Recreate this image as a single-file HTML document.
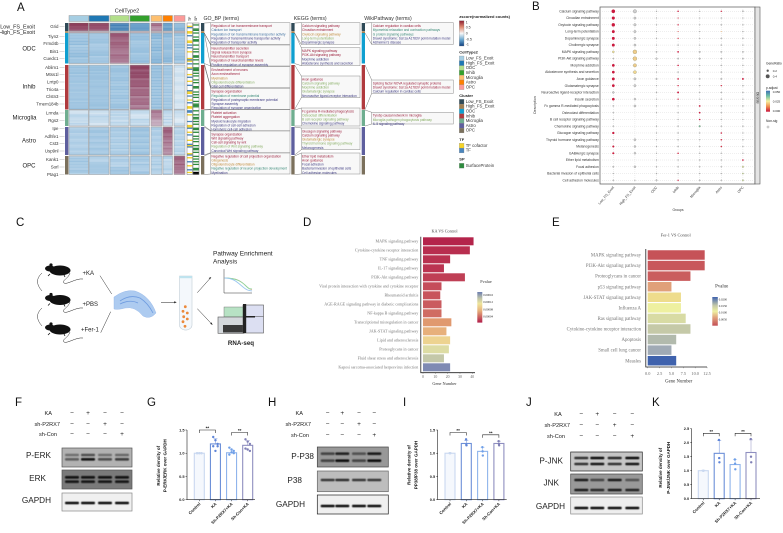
<!DOCTYPE html>
<html lang="en">
<head>
<meta charset="utf-8">
<title>Multi-panel figure</title>
<style>
html,body{margin:0;padding:0;background:#fff;width:783px;height:533px;overflow:hidden}
svg{display:block;filter:blur(.25px)}
text{font-family:"Liberation Sans",sans-serif}
.serif{font-family:"Liberation Serif",serif}
.letter{font-size:11.5px;fill:#111}
</style>
</head>
<body>
<svg id="fig" xmlns="http://www.w3.org/2000/svg" width="783" height="533" viewBox="0 0 783 533">
<defs>
<filter id="soft" x="-20%" y="-100%" width="140%" height="300%"><feGaussianBlur stdDeviation="0.45"/></filter>
<linearGradient id="zscore-grad" x1="0" y1="0" x2="0" y2="1"><stop offset="0" stop-color="#8c1c30"/><stop offset=".25" stop-color="#e08a70"/><stop offset=".5" stop-color="#f7f7f7"/><stop offset=".75" stop-color="#6aa8d0"/><stop offset="1" stop-color="#0f3f80"/></linearGradient>
<linearGradient id="padj-grad" x1="0" y1="0" x2="0" y2="1"><stop offset="0" stop-color="#3f6fb5"/><stop offset=".25" stop-color="#6fc0a5"/><stop offset=".5" stop-color="#f5f0a0"/><stop offset=".75" stop-color="#f09050"/><stop offset="1" stop-color="#c8143c"/></linearGradient>
<linearGradient id="pv-grad-d" x1="0" y1="0" x2="0" y2="1"><stop offset="0" stop-color="#6b7db0"/><stop offset=".2" stop-color="#bcc1a9"/><stop offset=".38" stop-color="#efe59b"/><stop offset=".6" stop-color="#e8b47c"/><stop offset="1" stop-color="#b11d49"/></linearGradient>
<linearGradient id="pv-grad-e" x1="0" y1="0" x2="0" y2="1"><stop offset="0" stop-color="#3f62ad"/><stop offset=".3" stop-color="#c5c9a8"/><stop offset=".5" stop-color="#eef0a0"/><stop offset=".72" stop-color="#e0a07a"/><stop offset="1" stop-color="#c44f56"/></linearGradient>
</defs>
<rect width="783" height="533" fill="#fff"/>
<text class="letter" x="17" y="11">A</text>
<text class="letter" x="532" y="10">B</text>
<text class="letter" x="16" y="226">C</text>
<text class="letter" x="303" y="226">D</text>
<text class="letter" x="552" y="226">E</text>
<text class="letter" x="15" y="406">F</text>
<text class="letter" x="147" y="406">G</text>
<text class="letter" x="268" y="406">H</text>
<text class="letter" x="403" y="406">I</text>
<text class="letter" x="526" y="406">J</text>
<text class="letter" x="652" y="406">K</text>

<g id="panel-c">
  <g transform="translate(0,0)" fill="#111">
    <ellipse cx="60" cy="270.5" rx="10.5" ry="5"/><ellipse cx="50" cy="268.5" rx="5" ry="3"/><circle cx="51" cy="265" r="1.6"/>
    <path d="M50 274l-2 2M64 275l1 2" stroke="#111" stroke-width=".8"/>
    <path d="M70 273c-2 6-9 8-6 10s12-5 19-4" fill="none" stroke="#222" stroke-width=".5"/>
  </g>
  <g fill="#111">
    <ellipse cx="60" cy="300" rx="10.5" ry="5"/><ellipse cx="50" cy="298" rx="5" ry="3"/><circle cx="51" cy="294.5" r="1.6"/>
    <path d="M50 303.500l-2 2M64 304.500l1 2" stroke="#111" stroke-width=".8"/>
    <path d="M70 302c-2 6-9 8-6 10s12-5 19-4" fill="none" stroke="#222" stroke-width=".5"/>
  </g>
  <g fill="#111">
    <ellipse cx="60" cy="329.500" rx="10.5" ry="5"/><ellipse cx="50" cy="327.500" rx="5" ry="3"/><circle cx="51" cy="324" r="1.6"/>
    <path d="M50 333l-2 2M64 334l1 2" stroke="#111" stroke-width=".8"/>
    <path d="M70 332c-2 6-9 8-6 10s12-5 19-4" fill="none" stroke="#222" stroke-width=".5"/>
  </g>
  <path d="M42 273q-9 8 0 18" fill="none" stroke="#333" stroke-width=".5"/>
  <path d="M42 308q-9 8 0 18" fill="none" stroke="#333" stroke-width=".5"/>
  <text x="82.500" y="275" font-size="6" fill="#222">+KA</text>
  <text x="82.500" y="306" font-size="6" fill="#222">+PBS</text>
  <text x="81" y="331.500" font-size="6" fill="#222">+Fer-1</text>
  <path d="M100 275.700L111.700 294M110.700 311.700L100.700 332.700" stroke="#333" stroke-width=".5" fill="none"/>
  <path d="M114 297Q125 289 135 291Q150 296 156 313Q150 320 143 316Q135 306 125 308Q118 310 114 309Z" fill="#adcbf0" stroke="#8fb3e6" stroke-width=".4"/>
  <path d="M120 301Q130 294 140 298Q148 303 153 313M120 304Q130 299 138 303" fill="none" stroke="#6f9ce0" stroke-width=".8"/>
  <path d="M161 302.300H175" stroke="#222" stroke-width=".5"/>
  <path d="M176.700 302.300l-2.500-1.100v2.200z" fill="#222"/>
  <path d="M179.500 276h12.500v49a6.200 5 0 0 1-12.500 0z" fill="#f4f8fc" stroke="#c2cdd6" stroke-width=".6"/>
  <rect x="179.500" y="276" width="12.500" height="2.200" fill="#bfe3ee"/>
  <g fill="#ec8a3c">
    <circle cx="185.300" cy="306.700" r="1.400"/><circle cx="183" cy="311.300" r="1.400"/><circle cx="187.300" cy="313" r="1.400"/><circle cx="183.700" cy="316.700" r="1.400"/><circle cx="187.300" cy="319" r="1.400"/><circle cx="183" cy="321.700" r="1.400"/><circle cx="185" cy="326.300" r="1.400"/>
  </g>
  <path d="M197.300 292.700L210.700 277.700M197.300 308.700L212 324.300" stroke="#222" stroke-width=".5" fill="none"/>
  <path d="M211.300 277l-2.600 1 1.400 1.300zM212.600 325l-1-2.600-1.400 1.300z" fill="#222"/>
  <text x="213" y="255.500" font-size="6.500" fill="#222">Pathway Enrichment</text>
  <text x="213" y="263.500" font-size="6.500" fill="#222">Analysis</text>
  <path d="M224 269V293H252" fill="none" stroke="#333" stroke-width=".5"/>
  <path d="M224.500 278C236 278 240 280 245 285S250 289 252 290" fill="none" stroke="#e8a090" stroke-width=".6"/>
  <path d="M224.500 278C237 278 242 282 246 286S250 288.500 252 289" fill="none" stroke="#8ed59a" stroke-width=".9"/>
  <path d="M224.500 278C234 278 238 283 243 287S248 290 252 291" fill="none" stroke="#9cc8ef" stroke-width=".9"/>
  <rect x="224" y="307" width="20" height="10" fill="#b7e2c4" stroke="#666" stroke-width=".4"/>
  <rect x="218" y="317" width="26" height="16.300" fill="#d4d8dc" stroke="#555" stroke-width=".6"/>
  <rect x="223" y="325" width="20" height="7.500" fill="#3a3a3a"/>
  <rect x="243" y="305" width="20.500" height="28" fill="#dcdff2" stroke="#555" stroke-width=".6"/>
  <rect x="243" y="304" width="3.200" height="29" fill="#222"/>
  <rect x="246" y="316" width="9" height="1.500" fill="#222"/>
  <rect x="255" y="316.400" width="8.500" height=".5" fill="#444"/>
  <text x="241" y="345" font-size="6.200" text-anchor="middle" font-weight="bold" fill="#222">RNA-seq</text>
</g>

<g id="panel-a"></g>
<g id="panel-b"></g>
<g id="panel-d"></g>
<g id="panel-e"></g>
<g id="panel-blots"></g>
<g id="panel-bars"></g>
</svg>

<script>
/* ---------- Panel A data ---------- */
const clusterNames = ['Low_FS_Exoit','High_FS_Exoit','ODC','Inhib','Microglia','Astro','OPC'];
const clusterColors = ['#2f4a58','#a07e50','#0f9fd0','#b03a3e','#6fae90','#5e5f9e','#7b705c'];
const cellTypeColors = ['#a6cee3','#1f78b4','#b2df8a','#33a02c','#fdbf6f','#ff7f00','#fb9a99'];
const heatValues = [
  [0.75,0.70,-0.72,-0.58,0.45,-0.55,-0.35],
  [0.20,0.20,0.20,0.20,0.20,0.20,0.20],
  [-0.30,-0.28,0.58,-0.30,-0.35,-0.34,-0.28],
  [-0.30,-0.28,-0.30,0.62,-0.32,-0.25,-0.10],
  [-0.14,-0.14,-0.16,-0.14,0.38,-0.14,-0.10],
  [-0.24,-0.24,-0.25,-0.26,-0.24,0.55,-0.20],
  [-0.24,-0.24,-0.24,-0.26,-0.22,-0.18,0.55]
];
const stripeShift = [0.10,-0.04,0.05,0.00,-0.05,0.08,0.02,-0.08,0.04,-0.02,0.06,-0.06,0.00,0.09,-0.03,-0.10,0.03,0.07,-0.04,0.01,-0.07,-0.12,-0.05,-0.09];
const tfCodes = 'wwybwwyywbwwwyywbwbwwywwwwybywbwwybwwwywbwwywwbwwwbyywbwwywbwwyywbbwywwwwbwwyybwwywbwwwywwbybwwwwybwywwbwwywwbwyw';
const spCodes = 'wgwwggwgwwgwggwwgwwgwgwwggwgwwgwwgggwgwgwwgwgwwggwwgwgwgwwgwgggwwgwwgwggwgwgwwggwgwwgwgwgwwgwggwgwwgwgwgwgwwggw';
const geneLabels = ['Grid','Tiyn2','Frmd4b','Bin1','Cuedc1','Ablim1','Mtss1l','Lrrtp0','Trio4a','Clstn3','Tmem184b','Lrmda','Rgs2','Ipe','Adhfe1','Cst3','Usp9nl','Kank1','Sorl','Ptag1'];
const geneY = [26.7,36.3,43.7,51.3,58.7,67.3,74.7,82,89.3,96.7,104,113,120.3,128.7,136.3,143.7,151,159.7,167,174.3];

const goTerms = [
 [['Regulation of ion transmembrane transport','r'],['Calcium ion transport','b'],['Regulation of ion transmembrane transporter activity','b'],['Regulation of transmembrane transporter activity','n'],['Regulation of transporter activity','n']],
 [['Neurotransmitter secretion','r'],['Signal release from synapse','r'],['Neurotransmitter transport','r'],['Regulation of neurotransmitter levels','r'],['Positive regulation of synapse assembly','n']],
 [['Ensheathment of neurons','r'],['Axon ensheathment','r'],['Myelination','o'],['Oligodendrocyte differentiation','g'],['Glial cell differentiation','n']],
 [['Synapse organization','r'],['Regulation of membrane potential','t'],['Regulation of postsynaptic membrane potential','n'],['Synapse assembly','n'],['Regulation of synapse organization','n']],
 [['Platelet activation','r'],['Platelet aggregation','r'],['Myeloid leukocyte migration','n'],['Regulation of cell-cell adhesion','n'],['Homotypic cell-cell adhesion','n']],
 [['Synapse organization','r'],['Wnt signaling pathway','r'],['Cell-cell signaling by wnt','r'],['Regulation of Wnt signaling pathway','g'],['Canonical Wnt signaling pathway','n']],
 [['Negative regulation of cell projection organization','r'],['Gliogenesis','o'],['Oligodendrocyte differentiation','o'],['Negative regulation of neuron projection development','t'],['Myelination','n']]
];
const keggTerms = [
 [['Calcium signaling pathway','r'],['Circadian entrainment','r'],['Oxytocin signaling pathway','o'],['Long-term potentiation','g'],['Dopaminergic synapse','n']],
 [['MAPK signaling pathway','r'],['PI3K-Akt signaling pathway','r'],['Morphine addiction','n'],['Aldosterone synthesis and secretion','n']],
 [['Axon guidance','r'],['Calcium signaling pathway','g'],['Morphine addiction','g'],['Glutamatergic synapse','g'],['Neuroactive ligand-receptor interaction','n']],
 [['Fc gamma R-mediated phagocytosis','r'],['Osteoclast differentiation','g'],['B cell receptor signaling pathway','g'],['Chemokine signaling pathway','n']],
 [['Glucagon signaling pathway','r'],['Calcium signaling pathway','r'],['Glutamatergic synapse','o'],['Thyroid hormone signaling pathway','g'],['Melanogenesis','n']],
 [['Ether lipid metabolism','r'],['Axon guidance','r'],['Focal adhesion','n'],['Bacterial invasion of epithelial cells','n'],['Cell adhesion molecules','n']]
];
const wikiTerms = [
 [['Calcium regulation in cardiac cells','r'],['Myometrial relaxation and contraction pathways','t'],['G protein signaling pathways','t'],['Dravet syndrome: Scn1a A1783V point mutation model','n'],['Alzheimer\u2019s disease','n']],
 [['Splicing factor NOVA regulated synaptic proteins','r'],['Dravet syndrome: Scn1a A1783V point mutation model','r'],['Calcium regulation in cardiac cells','n']],
 [['Tyrobp causal network in microglia','r'],['Microglia pathogen phagocytosis pathway','g'],['IL-5 signaling pathway','n']]
];

/* ---------- Panel B data ---------- */
const dotTerms = ['Calcium signaling pathway','Circadian entrainment','Oxytocin signaling pathway','Long-term potentiation','Dopaminergic synapse','Cholinergic synapse','MAPK signaling pathway','PI3K-Akt signaling pathway','Morphine addiction','Aldosterone synthesis and secretion','Axon guidance','Glutamatergic synapse','Neuroactive ligand-receptor interaction','Insulin secretion','Fc gamma R-mediated phagocytosis','Osteoclast differentiation','B cell receptor signaling pathway','Chemokine signaling pathway','Glucagon signaling pathway','Thyroid hormone signaling pathway','Melanogenesis','GABAergic synapse','Ether lipid metabolism','Focal adhesion','Bacterial invasion of epithelial cells','Cell adhesion molecules'];
const dotGroups = ['Low_FS_Exoit','High_FS_Exoit','ODC','Inhib','Microglia','Astro','OPC'];
const geneRatio = [
 [.36,.33,.03,.10,.02,.09,.08],[.30,.20,.02,.06,.01,.03,.02],[.33,.22,.03,.08,.02,.05,.04],[.27,.20,.02,.05,.02,.05,.04],
 [.27,.18,.03,.07,.02,.05,.05],[.27,.18,.02,.05,.02,.05,.04],[.17,.40,.08,.12,.10,.08,.08],[.04,.40,.12,.07,.10,.05,.07],
 [.25,.33,.03,.10,.02,.05,.05],[.25,.30,.02,.05,.02,.04,.03],[.27,.20,.10,.12,.06,.08,.15],[.25,.20,.03,.08,.03,.08,.06],
 [.15,0,.05,.15,.03,.05,.05],[.25,.15,.02,.08,.02,.05,.04],[.05,.18,.03,.03,.13,.05,.06],[.04,0,.02,.03,.12,.04,.03],
 [.03,0,0,.03,.10,.03,.02],[.05,0,.04,.05,.12,.04,.05],[.20,0,.03,.05,.03,.10,.03],[.04,.18,.02,.05,.03,.10,.05],
 [.17,.15,.03,.05,.03,.10,.03],[.17,.15,.02,.10,.03,.04,.03],[0,0,.02,.03,.04,.03,.12],[.08,.16,.05,.05,.04,.04,.12],
 [.02,0,.05,.03,.03,.03,.08],[.05,.02,.10,.08,.06,.04,.10]
];
const padjust = [
 [.001,null,null,.001,null,.003,null],[.001,null,null,.005,null,null,null],[.001,null,null,.003,null,null,null],[.001,null,null,.010,null,.020,null],
 [.001,null,null,.006,null,null,null],[.001,null,null,null,null,null,null],[.024,.022,null,.001,null,null,null],[null,.022,null,null,null,null,null],
 [.001,.022,null,.001,null,null,null],[.001,.023,null,null,null,null,null],[.001,null,null,.001,null,null,.001],[.001,null,null,.003,null,.004,null],
 [null,null,null,.001,null,null,null],[.001,null,null,.003,null,null,null],[null,null,null,null,.001,null,null],[null,null,null,null,.001,null,null],
 [null,null,null,null,.001,null,null],[null,null,null,null,.040,null,null],[.001,null,null,null,null,.002,null],[null,null,null,null,null,.003,null],
 [.002,null,null,null,null,.005,null],[.002,null,null,.003,null,null,null],[null,null,null,null,null,null,.001],[null,null,null,null,null,null,.028],
 [null,null,null,null,null,null,.030],[null,null,null,.002,null,null,.030]
];
const ratioLegend = [0.2,0.4];
const padjLegend = ['0.050','0.025','0.000'];

/* ---------- Panel D data ---------- */
const kaTerms = ['MAPK signaling pathway','Cytokine-cytokine receptor interaction','TNF signaling pathway','IL-17 signaling pathway','PI3K-Akt signaling pathway','Viral protein interaction with cytokine and cytokine receptor','Rheumatoid arthritis','AGE-RAGE signaling pathway in diabetic complications','NF-kappa B signaling pathway','Transcriptional misregulation in cancer','JAK-STAT signaling pathway','Lipid and atherosclerosis','Proteoglycans in cancer','Fluid shear stress and atherosclerosis','Kaposi sarcoma-associated herpesvirus infection'];
const kaGenes = [41,38,22,17,34,15,14,15,15,23,19,22,21,17,22];
const kaPvalue = [0.000005,0.000012,0.000015,0.000017,0.000025,0.000035,0.00004,0.000045,0.000055,0.00008,0.000095,0.000105,0.000125,0.00014,0.00016];
const kaTicks = [0,10,20,30,40];
const kaColorTicks = ['0.00016','0.00012','0.00008','0.00004'];

/* ---------- Panel E data ---------- */
const ferTerms = ['MAPK signaling pathway','PI3K-Akt signaling pathway','Proteoglycans in cancer','p53 signaling pathway','JAK-STAT signaling pathway','Influenza A','Ras signaling pathway','Cytokine-cytokine receptor interaction','Apoptosis','Small cell lung cancer','Measles'];
const ferGenes = [12,12,9,5,7,7,8,9,6,5,6];
const ferPvalue = [0.0005,0.0012,0.002,0.0075,0.0125,0.015,0.017,0.0188,0.021,0.0225,0.025];
const ferTicks = [0,2.5,5,7.5,10,12.5];
const ferColorTicks = ['0.0200','0.0150','0.0100','0.0050'];

/* ---------- Panels G/I/K data ---------- */
const barCategories = ['Control','KA','Sh-P2RX7+KA','Sh-Con+KA'];
const gMeans = [1.0,1.2,1.01,1.17];
const gErr = [0.01,0.11,0.06,0.10];
const gPoints = [[1,1,1,1,1,1],[1.35,1.28,1.2,1.15,1.05,1.15],[1.12,1.08,1.0,0.97,1.02,1.05],[1.3,1.25,1.2,1.1,1.08,1.05]];
const gTicks = [0,0.5,1.0,1.5];
const iMeans = [1.0,1.21,1.04,1.21];
const iErr = [0.01,0.06,0.09,0.05];
const iPoints = [[1,1,1],[1.3,1.18,1.17],[1.13,1.04,0.95],[1.26,1.2,1.17]];
const iTicks = [0,0.5,1.0,1.5];
const kMeans = [1.0,1.62,1.22,1.65];
const kErr = [0.02,0.45,0.18,0.45];
const kPoints = [[1,1,1],[2.1,1.45,1.3],[1.4,1.25,1.05],[2.13,1.5,1.3]];
const kTicks = [0,0.5,1.0,1.5,2.0,2.5];

/* ---------- Blots data ---------- */
const blotSigns = [['-','+','-','-'],['-','-','+','-'],['-','-','-','+']];
const blotTreatments = ['KA','sh-P2RX7','sh-Con'];
const fBands = [[.4,.6,.4,.45],[.5,.95,.6,.7]];
const fErk = [[.95,.95,.95,.95],[.9,.9,.9,.9]];
const fGapdh = [[1,1,1,1]];
const hBands = [[.6,.85,.5,.9],[.6,1,.6,1]];
const hP38 = [[.75,.8,.75,.75]];
const hGapdh = [[1,1,1,1]];
const jBands = [[.8,1,.85,1],[.8,.95,.8,.95]];
const jJnk = [[.9,.6,.9,.5],[.9,.8,.9,.85]];
const jGapdh = [[1,1,1,1]];

/* ---------- helpers ---------- */
const NS = 'http://www.w3.org/2000/svg';
function add(parent, tag, attrs, text) {
  const el = document.createElementNS(NS, tag);
  for (const k in attrs) el.setAttribute(k, attrs[k]);
  if (text !== undefined) el.textContent = text;
  parent.appendChild(el);
  return el;
}
function hex(c){return [1,3,5].map(i=>parseInt(c.substr(i,2),16));}
function ramp(stops,t){
  t=Math.max(0,Math.min(1,t));
  for(let i=1;i<stops.length;i++){
    if(t<=stops[i][0]){
      const a=stops[i-1],b=stops[i],f=(t-a[0])/(b[0]-a[0]||1),ca=hex(a[1]),cb=hex(b[1]);
      return 'rgb('+ca.map((v,j)=>Math.round(v+(cb[j]-v)*f)).join(',')+')';
    }
  }
  return stops[stops.length-1][1];
}
function heatColor(v){
  return ramp([[0,'#1f5f9e'],[.25,'#72a8d0'],[.4,'#b5d2e8'],[.5,'#eef3f7'],[.68,'#b896ac'],[.85,'#95506e'],[1,'#7c1e3c']],(v+1)/2);
}
const termColor = {r:'#9c1f3c',b:'#3d6fa0',o:'#c08a3a',g:'#86ad62',n:'#3d3a80',t:'#3a8a78'};

/* ---------- Panel A ---------- */
(function(){
  const root = document.getElementById('panel-a');
  const colX = [69,89,110,130,151,163,174];
  const colW = [19.500,20,19,19.500,11,9.500,11];
  const rowY = [23,31.200,33,65,110,127,156];
  const rowH = [8,1.600,30.500,44.500,16,28,18.500];
  const title = add(root,'text',{x:127,y:12.500,'font-size':5.500,'text-anchor':'middle',fill:'#222'},'CellType2');
  
  
  cellTypeColors.forEach((c,i)=>{
    const bar = add(root,'rect',{x:colX[i],y:15.500,width:colW[i],height:6,fill:c,stroke:'#999','stroke-width':.5});
    
    
  });
  clusterColors.forEach((c,r)=>{
    const strip = add(root,'rect',{x:65,y:rowY[r],width:3.400,height:rowH[r],fill:c});
    
    
    heatValues[r].forEach((v,i)=>{
      const cell = add(root,'g',{});
      
      
      const n = Math.max(1,Math.round(rowH[r]/1.500));
      const h = rowH[r]/n;
      for(let k=0;k<n;k++){
        const shift = stripeShift[(k*(r+1)+i*3)%stripeShift.length];
        const fade = v>0.3 ? 0.12*(1-2*k/n) : 0;
        const stripe = add(cell,'rect',{x:colX[i],y:rowY[r]+k*h,width:colW[i],height:h+.1,fill:heatColor(v+shift*(v>0.3?0.7:0.55)+fade)});
        
        
      }
      const frame = add(cell,'rect',{x:colX[i],y:rowY[r],width:colW[i],height:rowH[r],fill:'none',stroke:'#9a9a9a','stroke-width':.5});
      
      
    });
  });
  const stripTop = 23, stripH = 151.500;
  const tfMap = {w:'#ffffff',y:'#f5d327',b:'#4a86bd'};
  const spMap = {w:'#ffffff',g:'#2e8b3e'};
  for(let k=0;k<tfCodes.length;k++){
    const h = stripH/tfCodes.length;
    const t = add(root,'rect',{x:187,y:stripTop+k*h,width:5.500,height:h+.1,fill:tfMap[tfCodes[k]]});
    
    
    const s = add(root,'rect',{x:193,y:stripTop+k*h,width:6,height:h+.1,fill:spMap[spCodes[k]]});
    
    
  }
  [[187,5.500],[193,6]].forEach(b=>{
    const f = add(root,'rect',{x:b[0],y:stripTop,width:b[1],height:stripH,fill:'none',stroke:'#777','stroke-width':.5});
    
    
  });
  [['TF',190],['SP',196]].forEach(t=>{
    const lab = add(root,'text',{x:t[1]+1.200,y:21,'font-size':3.600,fill:'#222',transform:'rotate(-90 '+(t[1]+1.200)+' 21)'},t[0]);
    
    
  });
  geneLabels.forEach((g,i)=>{
    const t = add(root,'text',{x:58.500,y:geneY[i]+1.500,'font-size':4.400,'text-anchor':'end',fill:'#333'},g);
    
    
    const tick = add(root,'line',{x1:59.500,x2:64.500,y1:geneY[i],y2:geneY[i],stroke:'#888','stroke-width':.3});
    
    
  });
  const rowLabels = [['Low_FS_Exoit',35,28.500,'end',5.400],['High_FS_Exoit',35,33.800,'end',5.400],['ODC',29,50.300,'middle',6],['Inhib',29,88.700,'middle',6],['Microglia',24.500,119.300,'middle',6],['Astro',29,142.700,'middle',6],['OPC',29,167.300,'middle',6]];
  rowLabels.forEach(l=>{
    const t = add(root,'text',{x:l[1],y:l[2],'text-anchor':l[3],'font-size':l[4],fill:'#222'},l[0]);
    
    
  });
  const clusterSpans = [[23,33],[33,63.500],[65,109.500],[110,126],[127,155],[156,174.500]];
  const clusterStrip = [[23,8,0],[31.200,1.800,1],[33,30.500,2],[65,44.500,3],[110,16,4],[127,28,5],[156,18.500,6]];
  const columns = [
    {title:'GO_BP (terms)',sx:201,bx:210.700,bw:79.300,tx:211.400,terms:goTerms,
     boxes:[[22.700,21.700],[45,21],[66.700,21],[88.300,21],[109.700,21],[131,21.700],[153,21]],map:[0,1,1,2,3,4,5]},
    {title:'KEGG (terms)',sx:291.300,bx:301.300,bw:58.700,tx:302,terms:keggTerms,
     boxes:[[22.700,21.700],[47.700,18],[76,21.700],[108,18],[128,21.700],[153,21]],map:[0,1,2,3,4,5]},
    {title:'WikiPathway (terms)',sx:361.700,bx:371.700,bw:81.600,tx:372.700,terms:wikiTerms,
     boxes:[[22.700,21.700],[80,13.300],[112.300,11.700]],map:[0,2,3]}
  ];
  columns.forEach(col=>{
    const head = add(root,'text',{x:col.sx+2.500,y:20,'font-size':5.200,fill:'#333'},col.title);
    
    
    clusterStrip.forEach(s=>{
      const st = add(root,'rect',{x:col.sx,y:s[0],width:3.300,height:s[1],fill:clusterColors[s[2]]});
      
      
    });
    col.boxes.forEach((b,i)=>{
      const box = add(root,'rect',{x:col.bx,y:b[0],width:col.bw,height:b[1],fill:'#f8f8f8',stroke:'#8c8c8c','stroke-width':.5});
      
      
      const span = clusterSpans[col.map[i]];
      const link = add(root,'path',{d:'M'+(col.sx+3.300)+' '+span[0]+'L'+col.bx+' '+b[0]+'M'+(col.sx+3.300)+' '+span[1]+'L'+col.bx+' '+(b[0]+b[1]),stroke:'#555','stroke-width':.4,fill:'none'});
      
      
      col.terms[i].forEach((t,j)=>{
        const tx = add(root,'text',{x:col.tx,y:b[0]+4.400+j*4.100,'font-size':3.200,fill:termColor[t[1]]},t[0]);
        
        
      });
    });
  });
  /* legends */
  const zt = add(root,'text',{x:459.300,y:18,'font-size':4,'font-weight':'bold',fill:'#222'},'zscore(normalized counts)');
  
  
  const zb = add(root,'rect',{x:459.300,y:20.700,width:4.700,height:25.300,fill:'url(#zscore-grad)',stroke:'#888','stroke-width':.3});
  
  
  [['1',22],['0.5',27.300],['0',33.300],['-0.5',39],['-1',44.300]].forEach(l=>{
    const t = add(root,'text',{x:465.700,y:l[1]+1.300,'font-size':3.600,fill:'#333'},l[0]);
    
    
  });
  function legend(titleText,y,names,colors,startY){
    const tt = add(root,'text',{x:459.300,y:y,'font-size':4,'font-weight':'bold',fill:'#222'},titleText);
    
    
    names.forEach((n,i)=>{
      const sw = add(root,'rect',{x:459.300,y:startY+i*4.800,width:4.700,height:4.800,fill:colors[i],stroke:'#888','stroke-width':.25});
      
      
      const tx = add(root,'text',{x:465.700,y:startY+i*4.800+3.600,'font-size':4.300,fill:'#333'},n);
      
      
    });
  }
  legend('CellType2',53.500,clusterNames,cellTypeColors,56);
  legend('Cluster',97,clusterNames,clusterColors,99.300);
  legend('TF',141,['TF cofactor','TF'],['#f5d327','#4a86bd'],143.300);
  legend('SP',160.500,['SurfaceProtein'],['#2e8b3e'],163.300);
})();

/* ---------- Panel B ---------- */
(function(){
  const root = document.getElementById('panel-b');
  const x0=613.300, dx=21.600, y0=11.300, dy=6.760;
  const xOf = i => x0+i*dx;
  const yOf = i => y0+i*dy;
  const rOf = v => 0.35+v*4;
  function padjColor(p){
    return ramp([[0,'#c8143c'],[.15,'#d83a45'],[.5,'#f5ec9a'],[.8,'#6fc0a5'],[1,'#3f6fb5']],p/0.05);
  }
  const box = add(root,'rect',{x:600,y:7,width:155,height:177,fill:'#fff',stroke:'#555','stroke-width':.7});
  
  
  const strip = add(root,'rect',{x:755,y:7,width:5,height:177,fill:'#e4e4e4',stroke:'#555','stroke-width':.6});
  
  
  const stripText = add(root,'text',{x:756.500,y:92,'font-size':3.300,fill:'#222',transform:'rotate(90 756.500 92)'},'DEGSB');
  
  
  dotTerms.forEach((t,r)=>{
    const g = add(root,'line',{x1:600,x2:755,y1:yOf(r),y2:yOf(r),stroke:'#c8c8c8','stroke-width':.3,'stroke-dasharray':'1 1'});
    
    
    const l = add(root,'text',{x:598.800,y:yOf(r)+1.100,'font-size':3.350,'text-anchor':'end',fill:'#333'},t);
    
    
  });
  dotGroups.forEach((g,i)=>{
    const v = add(root,'line',{x1:xOf(i),x2:xOf(i),y1:7,y2:184,stroke:'#c8c8c8','stroke-width':.3,'stroke-dasharray':'1 1'});
    
    
    const l = add(root,'text',{x:xOf(i)+1,y:187.500,'font-size':3.500,'text-anchor':'end',fill:'#333',transform:'rotate(-50 '+(xOf(i)+1)+' 187.500)'},g);
    
    
  });
  geneRatio.forEach((row,r)=>row.forEach((v,c)=>{
    if(!v) return;
    const p = padjust[r][c];
    const dot = add(root,'circle',{cx:xOf(c),cy:yOf(r),r:rOf(v),fill:p===null?'#d0d0d0':padjColor(p),stroke:p===null?'#8a8a8a':(p>.02?'#8a8a6a':'none'),'stroke-width':p===null?.35:.3});
    
    
  }));
  const gt = add(root,'text',{x:678,y:211,'font-size':3.400,'text-anchor':'middle',fill:'#333'},'Groups');
  
  
  const yt = add(root,'text',{x:536,y:105,'font-size':3.500,'text-anchor':'middle',fill:'#333',transform:'rotate(-90 536 105)'},'Description');
  
  
  const lg = add(root,'text',{x:766,y:64.500,'font-size':3.300,fill:'#222'},'GeneRatio');
  
  
  ratioLegend.forEach((v,i)=>{
    const c = add(root,'circle',{cx:767.700,cy:70.700+i*5.600,r:rOf(v),fill:'#555'});
    
    
    const t = add(root,'text',{x:772.700,y:71.800+i*5.600,'font-size':3,fill:'#222'},String(v));
    
    
  });
  const pt = add(root,'text',{x:766,y:89,'font-size':3.300,fill:'#222'},'p.adjust');
  
  
  const cb = add(root,'rect',{x:766,y:90.700,width:4,height:21,fill:'url(#padj-grad)'});
  
  
  padjLegend.forEach((v,i)=>{
    const t = add(root,'text',{x:772.700,y:92.800+i*9.600,'font-size':3,fill:'#222'},v);
    
    
  });
  const nt = add(root,'text',{x:766,y:122,'font-size':3.300,fill:'#222'},'Non-sig');
  
  
  const nd = add(root,'circle',{cx:768,cy:127,r:1.100,fill:'#e8e8e8',stroke:'#888','stroke-width':.35});
  
  
})();

/* ---------- Panels D and E ---------- */
function hbar(cfg){
  const root = document.getElementById(cfg.id);
  const xOf = v => cfg.x0 + v*cfg.xScale;
  const yOf = i => cfg.y0 + i*cfg.dy;
  const t = add(root,'text',{class:'serif',x:cfg.titleX,y:cfg.titleY,'font-size':cfg.titleSize,'text-anchor':'middle',fill:'#444'},cfg.title);
  
  
  cfg.terms.forEach((name,i)=>{
    const l = add(root,'text',{class:'serif',x:cfg.labelX,y:yOf(i)+cfg.fs*0.33,'font-size':cfg.fs,'text-anchor':'end',fill:'#777'},name);
    
    
    const b = add(root,'rect',{x:xOf(0),y:yOf(i)-cfg.barH/2,width:xOf(cfg.values[i])-xOf(0),height:cfg.barH,fill:ramp(cfg.stops,cfg.pv[i]/cfg.pvMax)});
    
    
  });
  const ax = add(root,'path',{d:'M'+cfg.axisX+' '+cfg.axisTop+'V'+cfg.axisBottom+'H'+cfg.axisRight,fill:'none',stroke:'#222','stroke-width':.8});
  
  
  cfg.ticks.forEach(v=>{
    const m = add(root,'line',{x1:xOf(v),x2:xOf(v),y1:cfg.axisBottom,y2:cfg.axisBottom+1.200,stroke:'#333','stroke-width':.3});
    
    
    const l = add(root,'text',{class:'serif',x:xOf(v),y:cfg.tickY,'font-size':cfg.tickFs,'text-anchor':'middle',fill:'#666'},Number.isInteger(v)&&cfg.oneDecimal?v.toFixed(1):String(v));
    
    
  });
  const xt = add(root,'text',{class:'serif',x:cfg.xTitleX,y:cfg.xTitleY,'font-size':cfg.xTitleFs,'text-anchor':'middle',fill:'#333'},'Gene Number');
  
  
  const pv = add(root,'text',{class:'serif',x:cfg.pvX,y:cfg.pvY,'font-size':cfg.pvFs,'text-anchor':'middle',fill:'#333'},'Pvalue');
  
  
  const cb = add(root,'rect',{x:cfg.cbX,y:cfg.cbY,width:cfg.cbW,height:cfg.cbH,fill:cfg.grad});
  
  
  cfg.cbTicks.forEach((v,i)=>{
    const l = add(root,'text',{class:'serif',x:cfg.cbX+cfg.cbW+1,y:cfg.cbFirst+i*cfg.cbStep,'font-size':3,fill:'#222'},v);
    
    
  });
}
const kaStops = [[0,'#b11d49'],[.3,'#cc5f60'],[.5,'#e0996f'],[.62,'#e9b77e'],[.68,'#efe59b'],[.82,'#d6d8a8'],[.9,'#bcc1a9'],[1,'#7f8ab3']];
const ferStops = [[0,'#c44f56'],[.1,'#cc6060'],[.3,'#e0a07a'],[.5,'#eedc8c'],[.6,'#eef0a0'],[.75,'#c5c9a8'],[.85,'#b0b8ae'],[.9,'#a0aab5'],[1,'#3f62ad']];
hbar({id:'panel-d',terms:kaTerms,values:kaGenes,pv:kaPvalue,pvMax:0.00016,stops:kaStops,ticks:kaTicks,cbTicks:kaColorTicks,grad:'url(#pv-grad-d)',
  x0:423,xScale:1.233,y0:241.300,dy:9,barH:8,labelX:418.300,fs:4.100,title:'KA VS Control',titleX:444.500,titleY:232.500,titleSize:4.200,
  axisX:420.800,axisTop:236.700,axisBottom:372.700,axisRight:475,tickY:378.200,tickFs:3.800,xTitleX:444.500,xTitleY:385,xTitleFs:4.300,
  pvX:486,pvY:283,pvFs:4.200,cbX:477.300,cbY:292,cbW:5,cbH:30.600,cbFirst:296,cbStep:7.200,oneDecimal:false});
hbar({id:'panel-e',terms:ferTerms,values:ferGenes,pv:ferPvalue,pvMax:0.025,stops:ferStops,ticks:ferTicks,cbTicks:ferColorTicks,grad:'url(#pv-grad-e)',
  x0:647.700,xScale:4.750,y0:255,dy:10.570,barH:9.500,labelX:641,fs:4.800,title:'Fer-1 VS Control',titleX:675.700,titleY:236.500,titleSize:4.300,
  axisX:645.800,axisTop:249,axisBottom:367,axisRight:707,tickY:374.800,tickFs:4.300,xTitleX:678.700,xTitleY:382.500,xTitleFs:4.800,
  pvX:721.700,pvY:287.700,pvFs:4.800,cbX:712.300,cbY:297,cbW:5.500,cbH:28.700,cbFirst:300.500,cbStep:6.600,oneDecimal:true});

/* ---------- Western blots ---------- */
function blot(cfg){
  const root = document.getElementById('panel-blots');
  blotTreatments.forEach((name,r)=>{
    const t = add(root,'text',{x:cfg.labelRight[r],y:cfg.signY[r]+2,'font-size':5.600,'text-anchor':'end',fill:'#222'},name);
    
    
    blotSigns[r].forEach((s,c)=>{
      const m = add(root,'text',{x:cfg.lanes[c],y:cfg.signY[r]+2,'font-size':6.500,'text-anchor':'middle',fill:'#222'},s==='-'?'\u2212':s);
      
      
    });
  });
  cfg.panels.forEach(p=>{
    const b = add(root,'rect',{x:cfg.x,y:p.y,width:cfg.w,height:p.h,fill:p.bg,stroke:p.border,'stroke-width':.7});
    
    
    p.bands.forEach((row,bi)=>row.forEach((v,c)=>{
      const band = add(root,'rect',{x:cfg.lanes[c]-7,y:p.bandY[bi]-1.300,width:14,height:2.600,rx:1,fill:'#111',opacity:v,filter:'url(#soft)'});
      
      
    }));
    const l = add(root,'text',{x:p.lx,y:p.ly+3,'font-size':8.200,'text-anchor':'end',fill:'#222'},p.name);
    
    
  });
}
blot({x:62,w:70,lanes:[72,88,105,122],labelRight:[52,60,57],signY:[413,424,434],panels:[
  {name:'P-ERK',y:448,h:19,bg:'#b2b2b2',border:'#555',bands:fBands,bandY:[455,459.300],lx:51,ly:455},
  {name:'ERK',y:470,h:19,bg:'#7a7a7a',border:'#555',bands:fErk,bandY:[477.300,481.700],lx:46,ly:478},
  {name:'GAPDH',y:493,h:18,bg:'#f0f0f0',border:'#888',bands:fGapdh,bandY:[503],lx:51,ly:500}]});
blot({x:317.300,w:71,lanes:[327.700,342.300,359,374.300],labelRight:[303,311,309],signY:[413,424,435],panels:[
  {name:'P-P38',y:447,h:20,bg:'#989898',border:'#444',bands:hBands,bandY:[453.700,460.700],lx:314,ly:456},
  {name:'P38',y:471,h:20.700,bg:'#bdbdbd',border:'#666',bands:hP38,bandY:[480],lx:302,ly:480},
  {name:'GAPDH',y:495,h:19,bg:'#efefef',border:'#222',bands:hGapdh,bandY:[506],lx:305,ly:504}]});
blot({x:570.700,w:71.600,lanes:[581.300,597.300,614.700,632.300],labelRight:[561.700,570,565],signY:[414,425,436],panels:[
  {name:'P-JNK',y:452,h:19,bg:'#c6c6c6',border:'#222',bands:jBands,bandY:[458,464],lx:563,ly:460.700},
  {name:'JNK',y:474,h:20,bg:'#999',border:'#444',bands:jJnk,bandY:[480,490],lx:559,ly:482.700},
  {name:'GAPDH',y:497,h:17,bg:'#eee',border:'#888',bands:jGapdh,bandY:[508],lx:565,ly:506}]});

/* ---------- Densitometry bar charts ---------- */
const barColors = ['#c9d8f0','#6c8fd8','#8fb4ec','#8f8fc0'];
const dotColors = ['#c9d8f0','#5f85d8','#6f9fe8','#7f7fb5'];
function densChart(cfg){
  const root = document.getElementById('panel-bars');
  const yOf = v => cfg.y0 - v*cfg.yScale;
  const xOf = i => cfg.x0 + i*cfg.dx;
  cfg.means.forEach((m,i)=>{
    const b = add(root,'rect',{x:xOf(i)-5,y:yOf(m),width:10,height:cfg.y0-yOf(m),fill:i===0?'#f5f8fd':'#fff',stroke:barColors[i],'stroke-width':1.100});
    
    
    const e = add(root,'path',{d:'M'+xOf(i)+' '+yOf(m)+'V'+yOf(m+cfg.err[i])+'M'+(xOf(i)-2)+' '+yOf(m+cfg.err[i])+'H'+(xOf(i)+2),stroke:barColors[i],'stroke-width':.5,fill:'none'});
    
    
    cfg.points[i].forEach((p,k)=>{
      const off = ((k%3)-1)*2.200;
      const d = add(root,'circle',{cx:xOf(i)+off*(cfg.points[i].length>3?1:0.1),cy:yOf(p),r:1.200,fill:dotColors[i]});
      
      
    });
    const l = add(root,'text',{x:xOf(i)+1.500,y:cfg.y0+4.500,'font-size':4.200,'font-weight':'bold','text-anchor':'end',fill:'#222',transform:'rotate(-45 '+(xOf(i)+1.500)+' '+(cfg.y0+4.500)+')'},barCategories[i]);
    
    
    const tm = add(root,'line',{x1:xOf(i),x2:xOf(i),y1:cfg.y0,y2:cfg.y0+1.500,stroke:'#222','stroke-width':.5});
    
    
  });
  const ax = add(root,'path',{d:'M'+cfg.axisX+' '+yOf(cfg.ticks[cfg.ticks.length-1])+'V'+cfg.y0+'H'+cfg.axisRight,fill:'none',stroke:'#222','stroke-width':.6});
  
  
  cfg.ticks.forEach(v=>{
    const tm = add(root,'line',{x1:cfg.axisX-1.500,x2:cfg.axisX,y1:yOf(v),y2:yOf(v),stroke:'#222','stroke-width':.5});
    
    
    const l = add(root,'text',{x:cfg.axisX-2.500,y:yOf(v)+1.400,'font-size':3.900,'font-weight':'bold','text-anchor':'end',fill:'#222'},v.toFixed(1));
    
    
  });
  cfg.ylab.forEach((s,i)=>{
    const x = cfg.ylabX[i];
    const l = add(root,'text',{x:x,y:cfg.ylabY,'font-size':4.500,'font-weight':'bold','text-anchor':'middle',fill:'#222',transform:'rotate(-90 '+x+' '+cfg.ylabY+')'},s);
    
    
  });
  cfg.brackets.forEach(b=>{
    const p = add(root,'path',{d:'M'+xOf(b[0])+' '+(b[2]+3)+'V'+b[2]+'H'+xOf(b[1])+'V'+(b[2]+3),fill:'none',stroke:'#222','stroke-width':.55});
    
    
    const s = add(root,'text',{x:(xOf(b[0])+xOf(b[1]))/2,y:b[2]-.5,'font-size':4.500,'font-weight':'bold','text-anchor':'middle',fill:'#222'},'**');
    
    
  });
}
densChart({means:gMeans,err:gErr,points:gPoints,ticks:gTicks,x0:199.300,dx:16.130,y0:499.700,yScale:46.470,axisX:187,axisRight:255,
  ylab:['Relative density of','P-ERK/ERK over GAPDH'],ylabX:[160.200,166.500],ylabY:465.700,brackets:[[0,1,430],[2,3,432.500]]});
densChart({means:iMeans,err:iErr,points:iPoints,ticks:iTicks,x0:450,dx:16.300,y0:499.700,yScale:46.470,axisX:437.700,axisRight:506.700,
  ylab:['Relative density of','PP38/P38 over GAPDH'],ylabX:[410.500,417.500],ylabY:465,brackets:[[0,1,432.500],[2,3,434.800]]});
densChart({means:kMeans,err:kErr,points:kPoints,ticks:kTicks,x0:703.300,dx:15.900,y0:498.700,yScale:28,axisX:691.700,axisRight:760,
  ylab:['Relative density of','P-JNK/JNK over GAPDH'],ylabX:[662,669.800],ylabY:467.700,brackets:[[0,1,433.300],[2,3,433.300]]});
</script>
</body>
</html>
